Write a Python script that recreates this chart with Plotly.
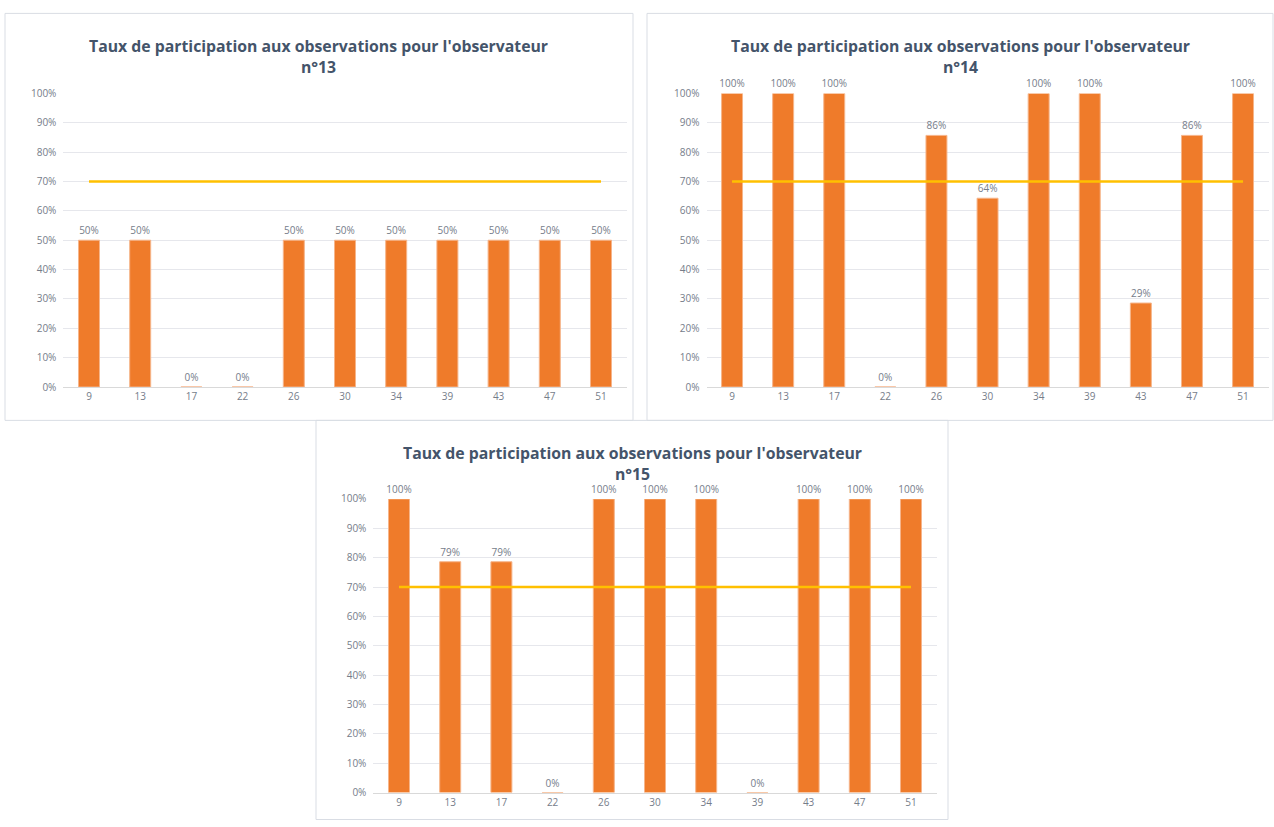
import plotly.graph_objects as go

categories = ["9", "13", "17", "22", "26", "30", "34", "39", "43", "47", "51"]
obs13 = [0.5, 0.5, 0, 0, 0.5, 0.5, 0.5, 0.5, 0.5, 0.5, 0.5]
obs14 = [1, 1, 1, 0, 0.857, 0.643, 1, 1, 0.286, 0.857, 1]
obs15 = [1, 0.786, 0.786, 0, 1, 1, 1, 0, 1, 1, 1]
target = [0.7] * len(categories)
titles = ["Taux de participation aux observations pour l'observateur<br>n°13",
          "Taux de participation aux observations pour l'observateur<br>n°14",
          "Taux de participation aux observations pour l'observateur<br>n°15"]

W, H = 1274, 827
FONT = "Open Sans"
BAR = "#ef7b2a"
LINE = "#ffc000"
GRID = "#e6e7ec"
TXT = "#767d8a"

def fx(px):
    return px / W

def fy(py):
    return 1 - py / H

# panels: (box x0,y0,x1,y1), plot (x0,x1,ytop,ybottom) in page pixels
panels = [
    ((5, 5.5, 633, 420), (63.4, 626.6, 87, 386)),
    ((647, 5.5, 1273, 420), (706.5, 1268.6, 87, 386)),
    ((316, 420, 948, 826.5), (373.4, 936.6, 500, 799)),
]
series = [obs13, obs14, obs15]

fig = go.Figure()
layout = dict(width=W, height=H, margin=dict(l=0, r=0, t=0, b=0),
              paper_bgcolor="white", plot_bgcolor="white", showlegend=False,
              font=dict(family=FONT, color=TXT, size=10), shapes=[], annotations=[])

for i, ((bx0, by0, bx1, by1), (px0, px1, pyt, pyb)) in enumerate(panels):
    n = "" if i == 0 else str(i + 1)
    fig.add_trace(go.Bar(x=categories, y=series[i], xaxis="x" + n, yaxis="y" + n,
                         marker=dict(color=BAR, line=dict(color="#f6b58a", width=1)),
                         width=0.41, texttemplate="%{y:.0%}", textposition="outside",
                         constraintext="none",
                         textfont=dict(size=10, color=TXT), cliponaxis=False))
    fig.add_trace(go.Scatter(x=categories, y=target, xaxis="x" + n, yaxis="y" + n,
                             mode="lines", line=dict(color=LINE, width=2.5), hoverinfo="skip"))
    layout["xaxis" + n] = dict(domain=[fx(px0), min(fx(px1), 1)], anchor="y" + n,
                               showgrid=False, showline=True, linecolor="#d9d9d9", linewidth=1,
                               ticks="", tickfont=dict(size=10, color=TXT), fixedrange=True)
    layout["yaxis" + n] = dict(domain=[fy(pyb), fy(pyt)], anchor="x" + n,
                               range=[0, 1], dtick=0.1, tickformat=".0%",
                               showgrid=True, gridcolor=GRID, gridwidth=1, zeroline=False,
                               showline=False, ticks="", tickfont=dict(size=10, color=TXT),
                               ticklabelstandoff=6, fixedrange=True)
    layout["shapes"].append(dict(type="rect", xref="paper", yref="paper",
                                 x0=fx(bx0), x1=fx(bx1), y0=fy(by1), y1=fy(by0),
                                 line=dict(color="#d9dde4", width=1), fillcolor="rgba(0,0,0,0)",
                                 layer="below"))
    layout["annotations"].append(dict(text="<b>" + titles[i] + "</b>", xref="paper", yref="paper",
                                      x=fx((bx0 + bx1) / 2), y=fy(by0 + 20),
                                      xanchor="center", yanchor="top", showarrow=False,
                                      font=dict(family=FONT, size=15.8, color="#44546a")))

fig.update_layout(**layout)
fig.write_html("out.html", config={"displayModeBar": False},
               post_script="document.body.style.margin='0';document.body.style.overflow='hidden';")
